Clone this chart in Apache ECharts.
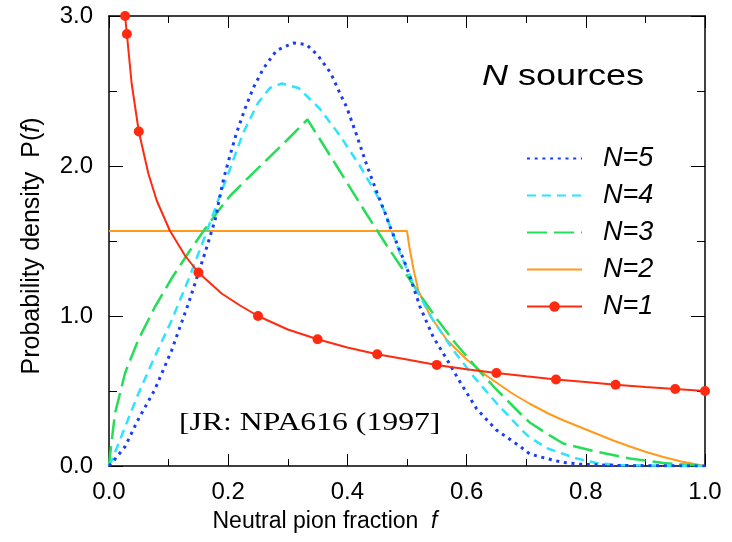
<!DOCTYPE html>
<html><head><meta charset="utf-8">
<script src="https://cdn.jsdelivr.net/npm/echarts@6/dist/echarts.min.js"></script>
<style>html,body{margin:0;padding:0;background:#fff}#c{width:732px;height:542px}</style>
</head><body><div id="c"></div>
<script>
// ---- data ----
const legendOrder = ['N=5', 'N=4', 'N=3', 'N=2', 'N=1'];

const n5 = [[0,0],[0.005,0.02],[0.027,0.13],[0.049,0.31],[0.077,0.51],[0.105,0.77],[0.133,1.08],[0.161,1.42],[0.178,1.64],[0.192,1.91],[0.203,2.07],[0.214,2.22],[0.228,2.38],[0.242,2.52],[0.259,2.65],[0.281,2.77],[0.309,2.82],[0.331,2.81],[0.35,2.74],[0.372,2.62],[0.388,2.48],[0.399,2.39],[0.416,2.20],[0.433,2.00],[0.449,1.83],[0.463,1.69],[0.471,1.60],[0.499,1.33],[0.522,1.06],[0.544,0.86],[0.567,0.71],[0.589,0.56],[0.617,0.38],[0.65,0.24],[0.69,0.13],[0.706,0.08],[0.734,0.05],[0.76,0.025],[0.79,0.012],[0.85,0.003],[1.0,0]];

const n4 = [[0,0],[0.005,0.04],[0.027,0.26],[0.049,0.48],[0.077,0.73],[0.105,0.97],[0.133,1.24],[0.161,1.53],[0.183,1.77],[0.203,1.98],[0.225,2.22],[0.25,2.42],[0.27,2.52],[0.29,2.55],[0.318,2.52],[0.354,2.38],[0.388,2.20],[0.421,2.00],[0.449,1.81],[0.463,1.69],[0.488,1.42],[0.516,1.17],[0.544,0.97],[0.578,0.77],[0.611,0.60],[0.65,0.42],[0.695,0.23],[0.706,0.19],[0.737,0.115],[0.785,0.05],[0.818,0.02],[0.86,0.005],[1.0,0]];

const n3 = [[0,0],[0.002,0.08],[0.01,0.35],[0.027,0.62],[0.049,0.84],[0.077,1.06],[0.105,1.25],[0.133,1.42],[0.161,1.58],[0.189,1.73],[0.203,1.80],[0.223,1.88],[0.259,2.02],[0.298,2.17],[0.333,2.31],[0.382,2.00],[0.432,1.68],[0.466,1.47],[0.5,1.27],[0.522,1.14],[0.55,0.98],[0.583,0.81],[0.622,0.63],[0.65,0.51],[0.69,0.35],[0.706,0.29],[0.737,0.21],[0.762,0.15],[0.818,0.095],[0.874,0.05],[0.93,0.02],[1.0,0]];

const n2 = [[0,1.567],[0.5,1.567],[0.504,1.46],[0.511,1.31],[0.519,1.17],[0.539,1.0],[0.567,0.84],[0.6,0.71],[0.634,0.60],[0.678,0.48],[0.706,0.415],[0.737,0.35],[0.762,0.305],[0.79,0.26],[0.818,0.215],[0.846,0.17],[0.874,0.13],[0.9,0.095],[0.93,0.06],[0.96,0.03],[1.0,0]];

const n1 = [[0.027,3.0],[0.03,2.88],[0.038,2.55],[0.05,2.23],[0.066,1.95],[0.08,1.77],[0.102,1.57],[0.128,1.40],[0.15,1.29],[0.189,1.15],[0.22,1.07],[0.25,1.0],[0.3,0.91],[0.35,0.845],[0.4,0.79],[0.45,0.745],[0.5,0.71],[0.55,0.674],[0.6,0.645],[0.65,0.62],[0.7,0.598],[0.75,0.577],[0.8,0.56],[0.85,0.542],[0.9,0.527],[0.95,0.513],[1.0,0.5]];
const n1MarkerF = [0.027,0.03,0.05,0.15,0.25,0.35,0.45,0.55,0.65,0.75,0.85,0.95,1.0];

const xTickValues = [0, 0.2, 0.4, 0.6, 0.8, 1.0];
const xTickLabels = ['0.0', '0.2', '0.4', '0.6', '0.8', '1.0'];
const yTickValues = [0, 1, 2, 3];
const yTickLabels = ['0.0', '1.0', '2.0', '3.0'];

const titleText = '{i|N} sources';
const xTitle = 'Neutral pion fraction  {i|f}';
const yTitle = 'Probability density  P({i|f})';
const noteText = '[JR: NPA616 (1997]';

// ---- chart ----
const SANS = '"Liberation Sans", Arial, sans-serif';
const SERIF = '"Liberation Serif", "Times New Roman", serif';
const C = { n5:'#1a3cf5', n4:'#2fe3ff', n3:'#26dd57', n2:'#ff9a1a', n1:'#ff2a10' };

function lookup(vals, labels) {
  return function (v) {
    for (let i = 0; i < vals.length; i++) if (Math.abs(vals[i] - v) < 1e-9) return labels[i];
    return '';
  };
}

function mkX(pos, showLabel) {
  return {
    type: 'value', position: pos, min: 0, max: 1, interval: 0.2,
    axisLine: { show: true, onZero: false, lineStyle: { color: '#000', width: 1.5 } },
    axisTick: { show: true, inside: true, length: 12, lineStyle: { color: '#000', width: 1 } },
    minorTick: { show: true, splitNumber: 2, length: 7, lineStyle: { color: '#000', width: 1 } },
    splitLine: { show: false }, minorSplitLine: { show: false },
    axisLabel: { show: showLabel, margin: 14, color: '#000', fontFamily: SANS, fontSize: 24,
                 formatter: lookup(xTickValues, xTickLabels) },
    name: showLabel ? xTitle : '', nameLocation: 'middle', nameGap: 44,
    nameTextStyle: { color: '#000', fontFamily: SANS, fontSize: 23, padding: [0, 164, 0, 0],
                     rich: { i: { fontStyle: 'italic', fontFamily: SANS, fontSize: 23, color: '#000' } } }
  };
}
function mkY(pos, showLabel) {
  return {
    type: 'value', position: pos, min: 0, max: 3, interval: 1,
    axisLine: { show: true, onZero: false, lineStyle: { color: '#000', width: 1.5 } },
    axisTick: { show: true, inside: true, length: 14, lineStyle: { color: '#000', width: 1 } },
    minorTick: { show: true, splitNumber: 2, length: 8, lineStyle: { color: '#000', width: 1 } },
    splitLine: { show: false }, minorSplitLine: { show: false },
    axisLabel: { show: showLabel, margin: 16, color: '#000', fontFamily: SANS, fontSize: 24,
                 formatter: lookup(yTickValues, yTickLabels) },
    name: showLabel ? yTitle : '', nameLocation: 'middle', nameRotate: 90, nameGap: 64,
    nameTextStyle: { color: '#000', fontFamily: SANS, fontSize: 25, padding: [0, 10, 0, 0],
                     rich: { i: { fontStyle: 'italic', fontFamily: SANS, fontSize: 25, color: '#000' } } }
  };
}

const chart = echarts.init(document.getElementById('c'), null, { renderer: 'canvas' });
chart.setOption({
  animation: false,
  backgroundColor: '#fff',
  grid: { left: 109, right: 27, top: 16, bottom: 76, containLabel: false },
  xAxis: [mkX('bottom', true), mkX('top', false)],
  yAxis: [mkY('left', true), mkY('right', false)],
  legend: {
    orient: 'vertical', left: 526, top: 145, padding: 0,
    itemWidth: 55, itemHeight: 13, itemGap: 10,
    textStyle: { fontFamily: SANS, fontSize: 27, fontStyle: 'italic', color: '#000', lineHeight: 26, padding: [0, 0, 0, 16] },
    data: legendOrder.map(n => n === 'N=1' ? { name: n } : { name: n, itemStyle: { opacity: 0 } })
  },
  graphic: [
    { type: 'text', x: 482, y: 77, scaleX: 1.2, z: 10,
      style: { text: titleText, fontFamily: SANS, fontSize: 30, fill: '#000', verticalAlign: 'middle',
               rich: { i: { fontStyle: 'italic', fontFamily: SANS, fontSize: 30, fill: '#000' } } } },
    { type: 'text', x: 179, y: 423, scaleX: 1.22, z: 10,
      style: { text: noteText, fontFamily: SERIF, fontSize: 26, fill: '#000', verticalAlign: 'middle' } }
  ],
  series: [
    { name: 'N=2', type: 'line', data: n2, showSymbol: false, symbol: 'none', z: 2,
      lineStyle: { color: C.n2, width: 2 }, itemStyle: { color: C.n2 } },
    { name: 'N=3', type: 'line', data: n3, showSymbol: false, symbol: 'none', z: 3,
      lineStyle: { color: C.n3, width: 2.5, type: [20, 7] }, itemStyle: { color: C.n3 } },
    { name: 'N=4', type: 'line', data: n4, showSymbol: false, symbol: 'none', z: 4,
      lineStyle: { color: C.n4, width: 2.5, type: [9, 6] }, itemStyle: { color: C.n4 } },
    { name: 'N=5', type: 'line', data: n5, showSymbol: false, symbol: 'none', z: 5,
      lineStyle: { color: C.n5, width: 3, type: [3, 4.7] }, itemStyle: { color: C.n5 } },
    { name: 'N=1', type: 'line', data: n1, z: 6, showSymbol: true, showAllSymbol: true, symbol: 'circle',
      symbolSize: v => (n1MarkerF.indexOf(v[0]) >= 0 ? 10 : 0),
      lineStyle: { color: C.n1, width: 2 }, itemStyle: { color: C.n1 } }
  ]
});
</script></body></html>
